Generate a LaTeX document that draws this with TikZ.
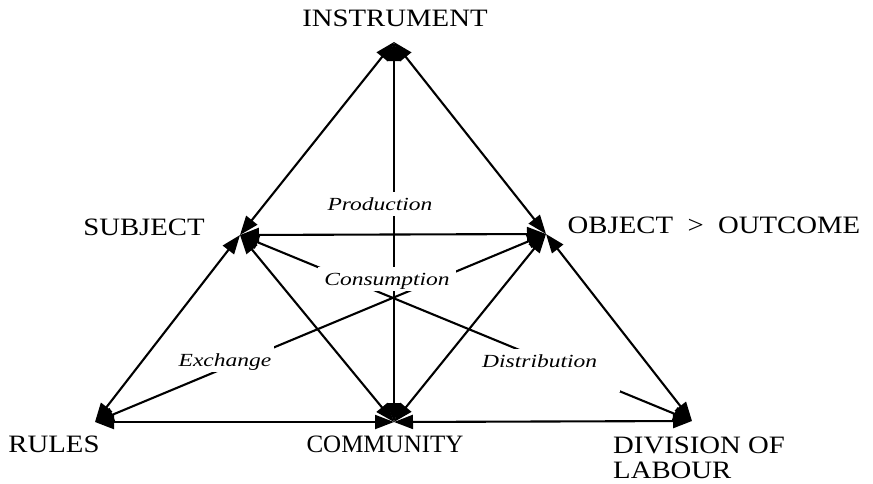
\documentclass[tikz,border=0pt]{standalone}
\usepackage{fontspec}
\setmainfont{Liberation Serif}
\newfontfamily\capfont[FakeStretch=1.15]{Liberation Serif}
\newfontfamily\labfont[FakeStretch=1.27]{Liberation Serif}
\usetikzlibrary{arrows.meta}
\begin{document}
\begin{tikzpicture}[x=1pt,y=-1pt,
  myarr/.tip={Triangle[length=19pt,width=14pt]},
  conn/.style={line width=2.1pt, myarr-myarr},
  captext/.style={font=\capfont\fontsize{25}{25}\selectfont, inner sep=0pt, anchor=base},
  labtext/.style={font=\labfont\itshape\fontsize{18.5}{22}\selectfont, fill=white,
    inner xsep=3pt, inner ysep=5pt, text height=13pt, text depth=1pt, anchor=base}]
\useasboundingbox (0,0) rectangle (873,483);
% vertices
\coordinate (I) at (394,42);
\coordinate (S) at (240,235);
\coordinate (O) at (546,234);
\coordinate (R) at (95,422);
\coordinate (C) at (394,422);
\coordinate (D) at (692,421);
% texts
\node[captext] (instr) at (395,26) {INSTRUMENT};
\node[captext] (subj) at (144,235) {SUBJECT};
\node[captext] (obj) at (714,233) {OBJECT\ \ >\ \ OUTCOME};
\node[captext] (rules) at (54,452) {RULES};
\node[captext, font=\fontsize{25}{25}\selectfont] (comm) at (385,452) {COMMUNITY};
\node[captext, align=left, anchor=north west] (div) at (613,437) {DIVISION OF\\LABOUR};
% connectors
\draw[conn] (I) -- (S);
\draw[conn] (I) -- (O);
\draw[conn] (I) -- (C);
\draw[conn] (S) -- (O);
\draw[conn] (S) -- (R);
\draw[conn] (S) -- (C);
\draw[conn] (O) -- (C);
\draw[conn] (O) -- (D);
\draw[conn] (R) -- (C);
\draw[conn] (C) -- (D);
\draw[conn] (R) -- (O);
\draw[conn] (S) -- (D);
% labels
\node[labtext] (prod) at (380,210) {Production};
\node[labtext, inner xsep=6pt] (cons) at (387,285) {Consumption};
\node[labtext, text height=16pt] (exch) at (225,366) {Exchange};
\node[labtext, anchor=base west, text depth=20pt] (dist) at (479,367) {Distribution\hspace*{20pt}};
\end{tikzpicture}
\end{document}
